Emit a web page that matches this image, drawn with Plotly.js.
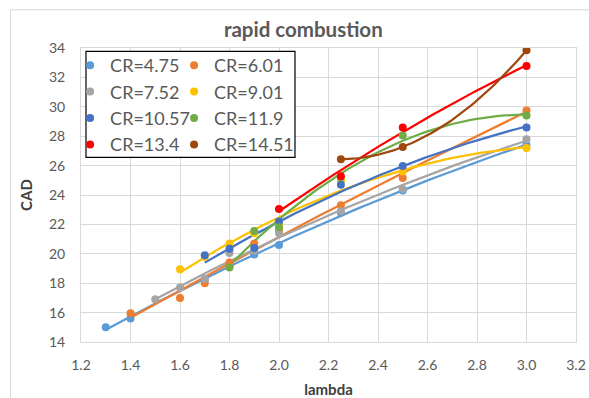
<!DOCTYPE html>
<html>
<head>
<meta charset="utf-8">
<script src="https://cdn.plot.ly/plotly-3.0.1.min.js"></script>
<style>html,body{margin:0;padding:0;background:#fff}#chart{width:589px;height:398px}</style>
</head>
<body>
<div id="chart"></div>
<script>
// ---- data ----
const seriesNames = ["CR=4.75","CR=6.01","CR=7.52","CR=9.01","CR=10.57","CR=11.9","CR=13.4","CR=14.51"];
const lambda_475  = [1.3, 1.4, 1.7, 1.8, 1.9, 2.0, 2.25, 2.5, 3.0];
const cad_475     = [15.0, 15.6, 18.2, 19.2, 19.95, 20.6, 22.8, 24.3, 27.4];
const lambda_601  = [1.4, 1.6, 1.7, 1.8, 1.9, 2.0, 2.25, 2.5, 3.0];
const cad_601     = [15.95, 17.0, 18.0, 19.4, 20.7, 21.6, 23.3, 25.15, 29.75];
const lambda_752  = [1.5, 1.6, 1.7, 1.8, 1.9, 2.0, 2.25, 2.5, 3.0];
const cad_752     = [16.9, 17.7, 18.3, 20.05, 20.2, 21.4, 22.9, 24.4, 27.8];
const lambda_901  = [1.6, 1.7, 1.8, 1.9, 2.0, 2.25, 2.5, 3.0];
const cad_901     = [18.95, 19.8, 20.7, 21.4, 22.0, 24.95, 25.6, 27.2];
const lambda_1057 = [1.7, 1.8, 1.9, 2.0, 2.25, 2.5, 3.0];
const cad_1057    = [19.9, 20.35, 20.4, 22.2, 24.7, 25.97, 28.6];
const lambda_119  = [1.8, 1.9, 2.0, 2.25, 2.5, 3.0];
const cad_119     = [19.06, 21.55, 21.8, 25.2, 28.04, 29.4];
const lambda_134  = [2.0, 2.25, 2.5, 3.0];
const cad_134     = [23.05, 25.27, 28.6, 32.78];
const lambda_1451 = [2.25, 2.5, 3.0];
const cad_1451    = [26.43, 27.27, 33.84];

const xs = [lambda_475, lambda_601, lambda_752, lambda_901, lambda_1057, lambda_119, lambda_134, lambda_1451];
const ys = [cad_475, cad_601, cad_752, cad_901, cad_1057, cad_119, cad_134, cad_1451];
const colors = ["#5B9BD5","#ED7D31","#A5A5A5","#FFC000","#4472C4","#70AD47","#FF0000","#9E480E"];

// quadratic least-squares trendline (as the spreadsheet's polynomial trendline)
function polyfit2(x, y) {
  let S = [0,0,0,0,0], T = [0,0,0];
  for (let i = 0; i < x.length; i++) {
    let p = 1;
    for (let k = 0; k < 5; k++) { S[k] += p; if (k < 3) T[k] += p * y[i]; p *= x[i]; }
  }
  const A = [[S[0],S[1],S[2],T[0]],[S[1],S[2],S[3],T[1]],[S[2],S[3],S[4],T[2]]];
  for (let c = 0; c < 3; c++) {
    let piv = c;
    for (let r = c+1; r < 3; r++) if (Math.abs(A[r][c]) > Math.abs(A[piv][c])) piv = r;
    [A[c], A[piv]] = [A[piv], A[c]];
    for (let r = 0; r < 3; r++) if (r !== c) {
      const f = A[r][c] / A[c][c];
      for (let k = c; k < 4; k++) A[r][k] -= f * A[c][k];
    }
  }
  return [A[0][3]/A[0][0], A[1][3]/A[1][1], A[2][3]/A[2][2]];
}

const traces = [];
const order = [0,1,2,3,4,5,6,7];
order.forEach(i => {
  const c = polyfit2(xs[i], ys[i]);
  const x0 = Math.min(...xs[i]), x1 = Math.max(...xs[i]);
  const tx = [], ty = [];
  const n = 60;
  for (let k = 0; k <= n; k++) { const x = x0 + (x1 - x0) * k / n; tx.push(x); ty.push(c[0] + c[1]*x + c[2]*x*x); }
  traces.push({x: tx, y: ty, type: 'scatter', mode: 'lines', line: {color: colors[i], width: 2.25}, showlegend: false, hoverinfo: 'skip'});
});
order.forEach(i => {
  traces.push({x: xs[i], y: ys[i], type: 'scatter', mode: 'markers', name: seriesNames[i],
    marker: {color: colors[i], size: 8}, legend: (i % 2 === 0) ? 'legend' : 'legend2', legendgroup: 'g' + i});
});

const gridc = '#D9D9D9';
const tickFont = {family: 'Lato, "Open Sans", sans-serif', size: 14, color: '#595959'};
const legFont = {family: 'Lato, "Open Sans", sans-serif', size: 18, color: '#595959'};
const legCommon = {bgcolor: 'rgba(0,0,0,0)', borderwidth: 0, font: legFont, traceorder: 'grouped', tracegroupgap: 0, itemwidth: 30, yanchor: 'top'};

const layout = {
  width: 589, height: 398,
  margin: {l: 81, r: 13, t: 47.7, b: 56.3},
  paper_bgcolor: '#fff', plot_bgcolor: '#fff',
  title: {text: '<b>rapid combustion</b>', x: 0.515, xanchor: 'center', y: 0.925, yanchor: 'middle',
    font: {family: 'Lato, "Open Sans", sans-serif', size: 20.5, color: '#595959'}},
  xaxis: {range: [1.2, 3.2], dtick: 0.2, tick0: 1.2, tickformat: '.1f', showgrid: true, gridcolor: gridc, gridwidth: 1,
    zeroline: false, showline: true, linecolor: gridc, mirror: true, ticks: '', tickfont: tickFont, ticklabelstandoff: 10,
    title: {text: '<b>lambda</b>', font: {family: 'Lato, "Open Sans", sans-serif', size: 15, color: '#404040'}, standoff: 12}},
  yaxis: {range: [14, 34], dtick: 2, showgrid: true, gridcolor: gridc, gridwidth: 1,
    zeroline: false, showline: true, linecolor: gridc, mirror: true, ticks: '', tickfont: tickFont, ticklabelstandoff: 12,
    title: {text: '<b>CAD</b>', font: {family: 'Lato, "Open Sans", sans-serif', size: 15, color: '#404040'}, standoff: 12}},
  legend: Object.assign({x: -0.022, y: 1.0034}, legCommon),
  legend2: Object.assign({x: 0.188, y: 1.0034}, legCommon),
  shapes: [
    {type: 'rect', xref: 'paper', yref: 'paper', x0: (86-81)/495, x1: (295-81)/495, y0: (341.7-157)/294, y1: (341.7-51)/294,
      line: {color: '#000', width: 1.2}, fillcolor: '#fff', layer: 'above'},
    {type: 'line', xref: 'paper', yref: 'paper', x0: (10.5-81)/495, x1: (10.5-81)/495, y0: (341.7-398)/294, y1: (341.7-9.5)/294, line: {color: gridc, width: 1}},
    {type: 'line', xref: 'paper', yref: 'paper', x0: (10.5-81)/495, x1: (589-81)/495, y0: (341.7-9.5)/294, y1: (341.7-9.5)/294, line: {color: gridc, width: 1}}
  ]
};
Plotly.newPlot('chart', traces, layout, {displayModeBar: false, staticPlot: true});
</script>
</body>
</html>
